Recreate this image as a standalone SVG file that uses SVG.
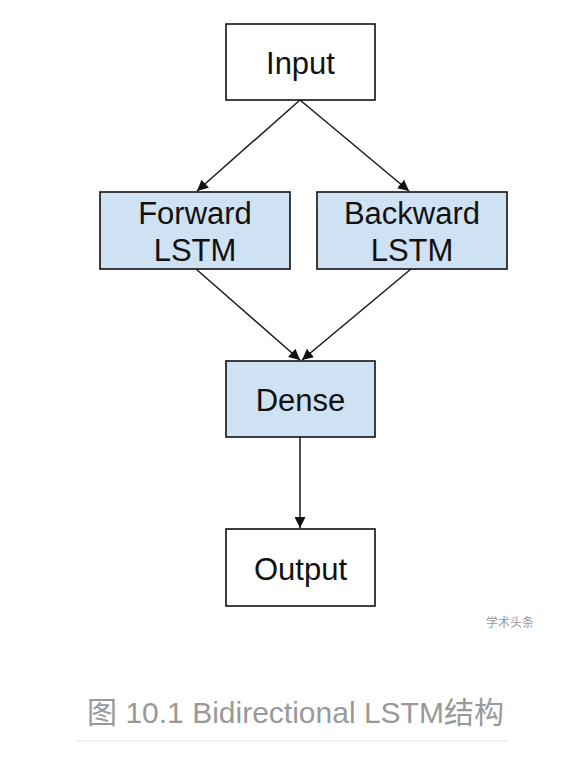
<svg xmlns="http://www.w3.org/2000/svg" width="568" height="764" viewBox="0 0 568 764">
<style>
.box{stroke:#111;stroke-width:1.6}
.plain{fill:#fff}
.blue{fill:#cfe2f3}
.lbl{font-family:"Liberation Sans",Arial,sans-serif;font-size:31px;fill:#111;text-anchor:middle}
.edge{stroke:#1a1a1a;stroke-width:1.5;fill:none;marker-end:url(#ah)}
.cap{font-family:"Liberation Sans","Noto Sans CJK SC",sans-serif;font-size:30px;fill:#999;text-anchor:middle}
.wm{font-family:"Noto Sans CJK SC",sans-serif;font-size:12px;fill:#999}
</style>
<defs>
<marker id="ah" viewBox="0 0 10 10" refX="10" refY="5" markerWidth="11" markerHeight="11" orient="auto" markerUnits="userSpaceOnUse">
<path d="M0,0 L10,5 L0,10 z" fill="#111"/>
</marker>
</defs>
<rect width="568" height="764" fill="#fff"/>
<g id="connectors">
<line class="edge" x1="300" y1="100" x2="197" y2="191"/>
<line class="edge" x1="300" y1="100" x2="409" y2="191"/>
<line class="edge" x1="196" y1="269" x2="300" y2="360"/>
<line class="edge" x1="411" y1="269" x2="302" y2="360"/>
<line class="edge" x1="300" y1="437" x2="300" y2="528"/>
</g>
<g id="input">
<rect class="box plain" x="226" y="24" width="149" height="76"/>
<text class="lbl" x="300.5" y="74">Input</text>
</g>
<g id="forward">
<rect class="box blue" x="100" y="192" width="190" height="77"/>
<text class="lbl" x="195" y="224">Forward</text>
<text class="lbl" x="195" y="261">LSTM</text>
</g>
<g id="backward">
<rect class="box blue" x="317" y="192" width="190" height="77"/>
<text class="lbl" x="412" y="224">Backward</text>
<text class="lbl" x="412" y="261">LSTM</text>
</g>
<g id="dense">
<rect class="box blue" x="226" y="361" width="149" height="76"/>
<text class="lbl" x="300.5" y="411">Dense</text>
</g>
<g id="output">
<rect class="box plain" x="226" y="529" width="149" height="77"/>
<text class="lbl" x="300.5" y="580">Output</text>
</g>
<text class="wm" x="486" y="627">学术头条</text>
<text class="cap" x="295.5" y="723">图 10.1 Bidirectional LSTM结构</text>
<line x1="76" y1="741" x2="508" y2="741" stroke="#eee" stroke-width="1.5"/>
</svg>
